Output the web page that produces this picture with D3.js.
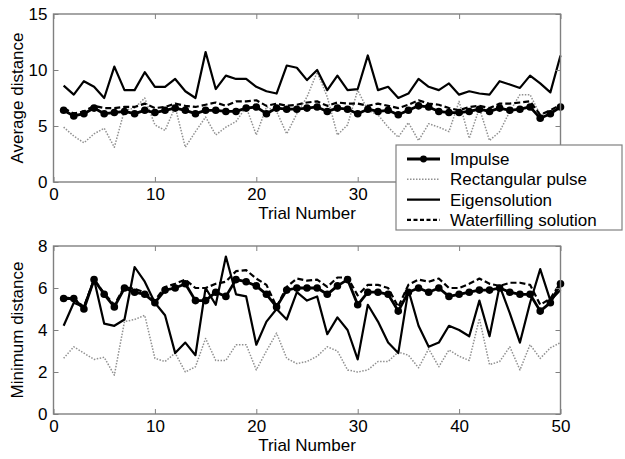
<!DOCTYPE html>
<html>
<head>
<meta charset="utf-8">
<script src="https://cdn.jsdelivr.net/npm/d3@7"></script>
<style>
  body { margin: 0; background: #fff; }
  svg text { font-family: "Liberation Sans", Arial, sans-serif; fill: #000; }
</style>
</head>
<body>
<div id="chart"></div>
<script>
var trials = d3.range(1, 51);

// top panel: average distance
var avgImpulse = [6.4,5.9,6.1,6.6,6.1,6.2,6.3,6.1,6.4,6.2,6.4,6.6,6.4,6.1,6.4,6.4,6.3,6.3,6.6,6.7,
  6.1,6.6,6.5,6.5,6.6,6.7,6.3,6.6,6.5,6.1,6.5,6.3,6.4,6.0,6.4,6.8,6.7,6.3,6.2,6.2,
  6.3,6.5,6.3,6.6,6.4,6.5,6.7,5.7,6.1,6.7];
var avgRect = [4.9,4.1,3.5,4.3,4.8,3.1,6.4,6.6,7.5,5.1,4.6,6.7,3.1,4.5,5.8,4.2,4.9,5.4,6.7,4.2,
  6.7,6.3,4.3,6.1,7.6,9.8,7.6,4.2,5.1,8.2,6.4,6.0,4.9,4.0,5.3,3.7,5.2,4.9,4.5,7.2,
  3.9,6.6,3.7,4.5,6.3,7.8,7.8,6.0,6.3,6.7];
var avgEigen = [8.6,7.8,9.0,8.5,7.5,10.3,8.2,8.2,9.8,8.5,8.5,9.2,8.1,7.5,11.6,8.3,9.5,9.2,9.2,8.5,
  8.1,7.9,10.4,10.2,9.1,10.0,8.2,9.5,8.2,8.3,11.3,8.2,8.5,7.5,7.9,9.2,8.5,8.2,8.8,7.8,
  8.1,7.9,7.8,9.0,8.7,8.4,9.5,8.8,8.0,11.3];
var avgWater = [6.6,6.1,6.3,6.8,6.6,6.6,6.7,6.7,7.0,6.6,6.7,7.0,6.8,6.7,6.9,7.1,6.8,7.2,7.2,7.3,
  6.8,7.0,6.8,6.9,7.1,7.2,6.8,7.1,7.0,7.0,6.8,7.0,6.8,6.6,6.9,7.3,7.0,6.9,6.6,6.4,
  6.7,6.8,6.6,7.0,7.0,7.1,7.2,6.0,6.4,6.9];

// bottom panel: minimum distance
var minImpulse = [5.5,5.5,5.0,6.4,5.7,5.1,6.0,5.8,5.7,5.3,5.9,6.0,6.2,5.4,5.4,5.8,5.6,6.4,6.3,6.1,
  5.7,5.1,5.9,6.0,6.0,6.0,5.7,6.1,6.4,5.2,5.8,5.8,5.7,4.9,5.8,6.0,5.8,6.0,5.6,5.7,
  5.8,5.9,5.9,6.0,5.8,5.7,5.7,4.9,5.3,6.2];
var minRect = [2.65,3.2,2.9,2.6,2.7,1.85,4.4,4.5,4.7,2.65,2.5,2.9,2.0,2.25,3.6,2.55,2.55,3.3,3.3,2.1,
  3.0,3.85,2.65,2.4,2.5,2.75,3.2,3.0,2.1,2.0,2.1,2.5,2.5,2.95,2.8,2.2,3.1,2.25,3.05,2.75,
  2.55,4.55,2.35,2.5,3.2,2.1,3.3,2.65,3.15,3.4];
var minEigen = [4.2,5.3,5.1,6.4,4.3,4.2,4.5,7.0,6.3,5.3,4.7,2.9,3.4,2.8,6.0,5.2,7.5,5.7,5.6,3.3,
  4.4,5.0,4.5,5.8,5.4,5.6,3.8,4.6,4.0,2.6,5.2,4.4,3.4,2.9,5.9,4.2,3.2,3.4,4.2,4.0,
  3.7,5.4,3.7,6.1,4.8,3.4,5.3,6.9,5.4,5.9];
var minWater = [5.55,5.5,5.1,6.4,5.75,5.2,6.05,5.95,5.8,5.4,6.05,6.2,6.4,6.0,6.0,6.2,6.3,6.8,6.85,6.45,
  6.15,5.1,6.05,6.45,6.35,6.4,6.05,6.5,6.5,5.65,6.15,6.15,6.0,5.1,6.15,6.4,6.3,6.45,6.0,6.0,
  6.2,6.45,6.2,6.1,6.25,6.25,6.15,5.2,5.5,6.25];

var legendNames = ["Impulse", "Rectangular pulse", "Eigensolution", "Waterfilling solution"];
var topTicks = [0, 5, 10, 15];
var bottomTicks = [0, 2, 4, 6, 8];
var xTicks = [0, 10, 20, 30, 40, 50];
// x tick labels of the top panel that the legend box covers
var hiddenTopLabels = [40, 50];

var width = 625, height = 459;
var frameColor = "#808080";

// line styles, same order as the legend
var styles = [
  { stroke: "#000", width: 2.8, dash: null, dots: true },
  { stroke: "#909090", width: 1.5, dash: "1.5,1.5", dots: false },
  { stroke: "#000", width: 2.2, dash: null, dots: false },
  { stroke: "#000", width: 2.2, dash: "6,3", dots: false }
];

var svg = d3.select("#chart").append("svg")
  .attr("width", width)
  .attr("height", height);

var x = d3.scaleLinear().domain([0, 50]).range([53.5, 560.5]);

function panel(series, yMax, yTicks, top, bottom, yLabel, hidden) {
  var y = d3.scaleLinear().domain([0, yMax]).range([bottom, top]);
  var g = svg.append("g");

  var line = d3.line()
    .x(function (d, i) { return x(trials[i]); })
    .y(function (d) { return y(d); });

  // draw order: rect, eigen, water, impulse
  [1, 2, 3, 0].forEach(function (k) {
    var st = styles[k];
    g.append("path")
      .datum(series[k])
      .attr("fill", "none")
      .attr("stroke", st.stroke)
      .attr("stroke-width", st.width)
      .attr("stroke-dasharray", st.dash)
      .attr("stroke-linejoin", "round")
      .attr("d", line);
    if (st.dots) {
      g.selectAll(".dot" + k)
        .data(series[k])
        .enter()
        .append("circle")
        .attr("cx", function (d, i) { return x(trials[i]); })
        .attr("cy", function (d) { return y(d); })
        .attr("r", 3.8)
        .attr("fill", "#000");
    }
  });

  // frame
  g.append("rect")
    .attr("x", x(0)).attr("y", top)
    .attr("width", x(50) - x(0)).attr("height", bottom - top)
    .attr("fill", "none")
    .attr("stroke", frameColor)
    .attr("stroke-width", 1.4);

  var fs = "17px";
  var ax = g.append("g").attr("transform", "translate(0," + bottom + ")")
    .call(d3.axisBottom(x).tickValues(xTicks).tickSize(-5).tickPadding(6)
      .tickFormat(function (d) { return hidden.indexOf(d) >= 0 ? "" : d; }));
  ax.attr("font-size", fs);
  g.append("g").attr("transform", "translate(0," + top + ")")
    .call(d3.axisTop(x).tickValues(xTicks).tickSize(-5).tickFormat(""));
  var ay = g.append("g").attr("transform", "translate(" + x(0) + ",0)")
    .call(d3.axisLeft(y).tickValues(yTicks).tickSize(-5).tickPadding(6));
  ay.attr("font-size", fs);
  g.append("g").attr("transform", "translate(" + x(50) + ",0)")
    .call(d3.axisRight(y).tickValues(yTicks).tickSize(-5).tickFormat(""));

  g.selectAll(".domain").remove();
  g.selectAll(".tick line").attr("stroke", frameColor);
  g.selectAll(".tick text").attr("fill", "#000").attr("font-family", "Liberation Sans, Arial, sans-serif");

  g.append("text")
    .attr("x", (x(0) + x(50)) / 2)
    .attr("y", bottom + 37)
    .attr("text-anchor", "middle")
    .attr("font-size", fs)
    .text("Trial Number");

  g.append("text")
    .attr("transform", "translate(23," + (top + bottom) / 2 + ") rotate(-90)")
    .attr("text-anchor", "middle")
    .attr("font-size", fs)
    .text(yLabel);
}

panel([avgImpulse, avgRect, avgEigen, avgWater], 15, topTicks, 14, 182, "Average distance", hiddenTopLabels);
panel([minImpulse, minRect, minEigen, minWater], 8, bottomTicks, 246, 414, "Minimum distance", []);

// legend (sits over the top panel's right tick labels)
var legend = svg.append("g");
legend.append("rect")
  .attr("x", 396).attr("y", 145)
  .attr("width", 226).attr("height", 85)
  .attr("fill", "#fff")
  .attr("stroke", frameColor)
  .attr("stroke-width", 1.2);

var rows = legend.selectAll(".legend")
  .data(legendNames)
  .enter()
  .append("g")
  .attr("transform", function (d, i) { return "translate(0," + (159 + i * 20.3) + ")"; });

rows.append("line")
  .attr("x1", 407).attr("x2", 440)
  .attr("stroke", function (d, i) { return styles[i].stroke; })
  .attr("stroke-width", function (d, i) { return styles[i].width; })
  .attr("stroke-dasharray", function (d, i) { return i == 3 ? "4,2.5" : styles[i].dash; });

rows.filter(function (d, i) { return i == 0; })
  .append("circle")
  .attr("cx", 423.5).attr("r", 3.4).attr("fill", "#000");

rows.append("text")
  .attr("x", 450)
  .attr("dy", "0.35em")
  .attr("font-size", "17px")
  .text(function (d) { return d; });
</script>
</body>
</html>
